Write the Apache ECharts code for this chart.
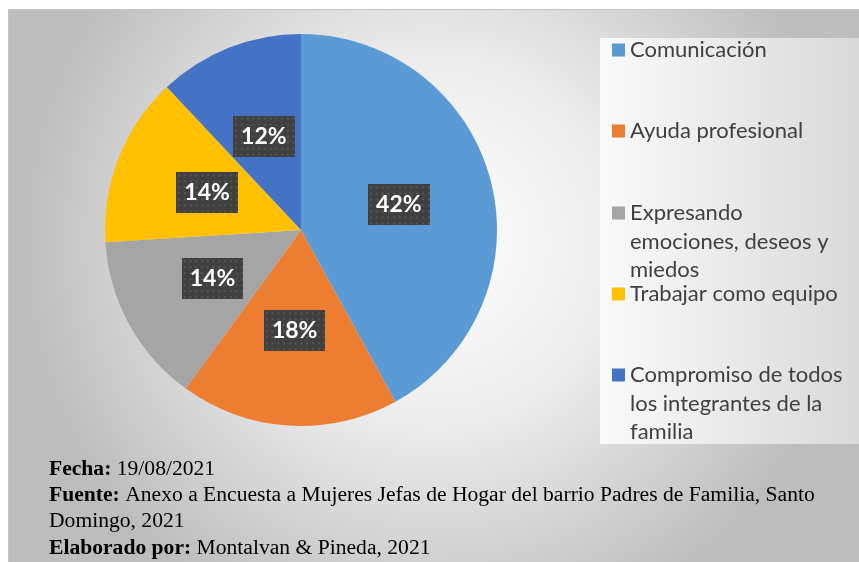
<!DOCTYPE html>
<html>
<head>
<meta charset="utf-8">
<script src="https://cdn.jsdelivr.net/npm/echarts@6/dist/echarts.min.js"></script>
<style>
  html, body { margin: 0; padding: 0; background: #fff; }
  #wrap { position: relative; width: 859px; height: 562px; overflow: hidden; }
  #chart { position: absolute; left: 8px; top: 9px; width: 851px; height: 553px;
           border-top: 1px solid #c4c4c4; border-left: 1px solid #c4c4c4; box-sizing: border-box; }
</style>
</head>
<body>
<div id="wrap"><div id="chart"></div></div>
<script>
// data
var categories = [
  'Comunicación',
  'Ayuda profesional',
  'Expresando\nemociones, deseos y\nmiedos',
  'Trabajar como equipo',
  'Compromiso de todos\nlos integrantes de la\nfamilia'
];
var percents = [42, 18, 14, 14, 12];
var colors = ['#5B9BD5', '#ED7D31', '#A5A5A5', '#FFC000', '#4472C4'];
var footerLines = [
  ['Fecha:', ' 19/08/2021'],
  ['Fuente:', ' Anexo a Encuesta a Mujeres Jefas de Hogar del barrio Padres de Familia, Santo'],
  ['', 'Domingo, 2021'],
  ['Elaborado por:', ' Montalvan & Pineda, 2021']
];

// dotted dark fill for the data label boxes
function dotPattern(w, h) {
  var c = document.createElement('canvas');
  c.width = w; c.height = h;
  var ctx = c.getContext('2d');
  ctx.fillStyle = '#404040';
  ctx.fillRect(0, 0, w, h);
  ctx.fillStyle = '#575757';
  for (var y = 2; y < h; y += 6) {
    for (var x = 2; x < w; x += 6) {
      ctx.fillRect(x, y, 2, 2);
    }
  }
  return c.toDataURL();
}
var labelBg = dotPattern(64, 41);

var chart = echarts.init(document.getElementById('chart'));

var lineH = 28.5;
var legendCenters = [40, 121, 203, 284, 365];
// each entry gets its own legend so the wrapped ones can overflow like in Excel;
// blank lines on top keep the marker level with the first line
var legends = categories.map(function (name, i) {
  var extra = name.split('\n').length - 1;
  var totalLines = 1 + extra * 2;
  return {
    orient: 'vertical',
    left: 603,
    top: legendCenters[i] - totalLines * lineH / 2,
    padding: 0,
    data: [name],
    icon: 'rect',
    itemWidth: 13,
    itemHeight: 13,
    selectedMode: false,
    formatter: function (n) {
      return new Array(extra + 1).join('\n') + n;
    },
    textStyle: {
      fontFamily: 'Lato',
      fontSize: 22,
      color: '#404040',
      lineHeight: lineH
    }
  };
});

var footerText = footerLines.map(function (l) {
  return (l[0] ? '{b|' + l[0] + '}' : '') + '{r|' + l[1] + '}';
}).join('\n');

var option = {
  backgroundColor: {
    type: 'radial', x: 0.5, y: 0.42, r: 0.75,
    colorStops: [
      { offset: 0, color: '#ffffff' },
      { offset: 0.45, color: '#ececec' },
      { offset: 1, color: '#bdbdbd' }
    ]
  },
  color: colors,
  graphic: [{
    type: 'rect',
    left: 591, top: 28,
    shape: { width: 260, height: 406 },
    style: {
      fill: {
        type: 'linear', x: 0, y: 0, x2: 1, y2: 0,
        colorStops: [
          { offset: 0, color: '#fafafa' },
          { offset: 1, color: '#d9d9d9' }
        ]
      }
    },
    z: 0
  }],
  legend: legends,
  title: {
    left: 35,
    top: 441,
    text: footerText,
    textStyle: {
      fontWeight: 'normal',
      rich: {
        b: { fontFamily: 'Liberation Serif', fontWeight: 'bold', fontSize: 21.6, color: '#000', lineHeight: 26.3 },
        r: { fontFamily: 'Liberation Serif', fontWeight: 'normal', fontSize: 21.6, color: '#000', lineHeight: 26.3 }
      }
    }
  },
  series: [{
    type: 'pie',
    center: [292, 220],
    radius: 196,
    startAngle: 90,
    clockwise: true,
    animation: false,
    silent: true,
    data: categories.map(function (c, i) {
      return { name: c, value: percents[i] };
    }),
    label: {
      position: 'inside',
      formatter: '{c}%',
      fontFamily: 'Lato',
      fontWeight: 'bold',
      fontSize: 23,
      color: '#fff',
      lineHeight: 27,
      padding: [7, 8, 7, 8],
      backgroundColor: { image: labelBg },
      shadowColor: 'rgba(0,0,0,0.45)',
      shadowBlur: 6,
      shadowOffsetX: 3,
      shadowOffsetY: 3
    },
    labelLine: { show: false },
    emphasis: { disabled: true }
  }]
};

chart.setOption(option);
</script>
</body>
</html>
